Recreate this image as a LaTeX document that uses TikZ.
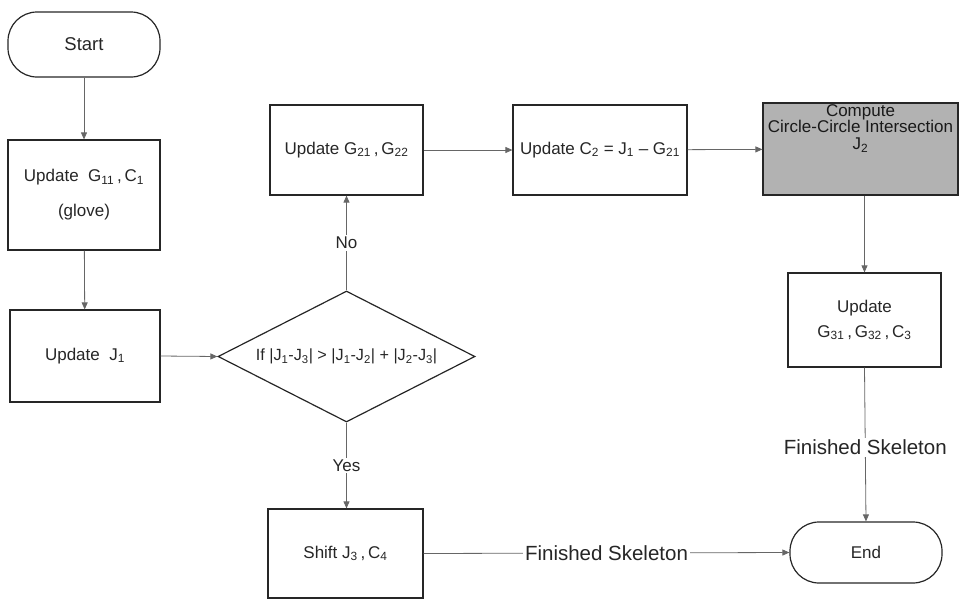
\documentclass[tikz,border=0pt]{standalone}
\usepackage{fontspec}
\setmainfont{Liberation Sans}
\usetikzlibrary{shapes.geometric,arrows.meta}
\begin{document}
\begin{tikzpicture}[x=1pt,y=-1pt,
  base/.style={draw=black!85, line width=1.2pt, inner sep=0pt, align=center,
    font=\fontsize{17}{20}\selectfont, text=black!85},
  procbox/.style={base, rectangle},
  term/.style={base, rectangle, rounded corners=29pt},
  decis/.style={base, diamond, aspect=1.96},
  conn/.style={draw=black!60, line width=0.8pt, -{Triangle[length=7pt,width=6pt]}},
  lbl/.style={fill=white, inner sep=2pt, text=black!85, font=\fontsize{17}{20}\selectfont},
  biglbl/.style={lbl, font=\fontsize{20.5}{23}\selectfont}
]
\useasboundingbox (0,0) rectangle (961,600);

\node[term, minimum width=152pt, minimum height=65pt, font=\fontsize{18.5}{21}\selectfont] (start) at (84,44.5) {Start};
\node[procbox, minimum width=152pt, minimum height=110pt] (g11) at (84,195)
  {Update\ \ G\textsubscript{11}\,,\,C\textsubscript{1}\\[15pt](glove)};
\node[procbox, minimum width=150pt, minimum height=92pt] (j1) at (85,356)
  {Update\ \ J\textsubscript{1}};
\node[decis, minimum width=257pt, minimum height=131pt, font=\fontsize{16.2}{19}\selectfont] (dia) at (346.5,356.5)
  {If |J\textsubscript{1}-J\textsubscript{3}| {>} |J\textsubscript{1}-J\textsubscript{2}| + |J\textsubscript{2}-J\textsubscript{3}|};
\node[procbox, minimum width=153pt, minimum height=90pt] (g21) at (346.5,150)
  {Update G\textsubscript{21}\,,\,G\textsubscript{22}};
\node[procbox, minimum width=174pt, minimum height=90pt] (c2) at (600,150)
  {Update C\textsubscript{2} = J\textsubscript{1} -- G\textsubscript{21}};
\node[procbox, minimum width=195pt, minimum height=92pt, fill=black!30] (comp) at (860.5,149) {};
\node[anchor=north, inner sep=0pt, align=center, text=black!90,
  font=\fontsize{17}{16.5}\selectfont] (comptxt) at ([yshift=-2pt]comp.north)
  {Compute\\Circle-Circle Intersection\\J\textsubscript{2}};
\node[procbox, minimum width=153pt, minimum height=94pt] (g31) at (864.5,320)
  {Update\\[5pt]G\textsubscript{31}\,,\,G\textsubscript{32}\,,\,C\textsubscript{3}};
\node[term, minimum width=152pt, minimum height=61pt] (end) at (866,552.5) {End};
\node[procbox, minimum width=155pt, minimum height=89pt] (shift) at (345.5,553.5)
  {Shift J\textsubscript{3}\,,\,C\textsubscript{4}};

\draw[conn] (start) -- (g11);
\draw[conn] (g11) -- (j1);
\draw[conn] (j1.east) -- (dia.west);
\draw[conn] (dia.north) -- node[lbl] (nol) {No} (dia.north |- g21.south);
\draw[conn] (g21) -- (c2);
\draw[conn] (c2) -- (comp);
\draw[conn] (g31.north |- comp.south) -- (g31.north);
\draw[conn] (g31.south) -- node[biglbl, pos=0.52] (fs1) {Finished Skeleton} (end.north);
\draw[conn] (dia.south) -- node[lbl, pos=0.5] (yesl) {Yes} (dia.south |- shift.north);
\draw[conn] (shift.east) -- node[biglbl] (fs2) {Finished Skeleton} (end.west);
\end{tikzpicture}
\end{document}
